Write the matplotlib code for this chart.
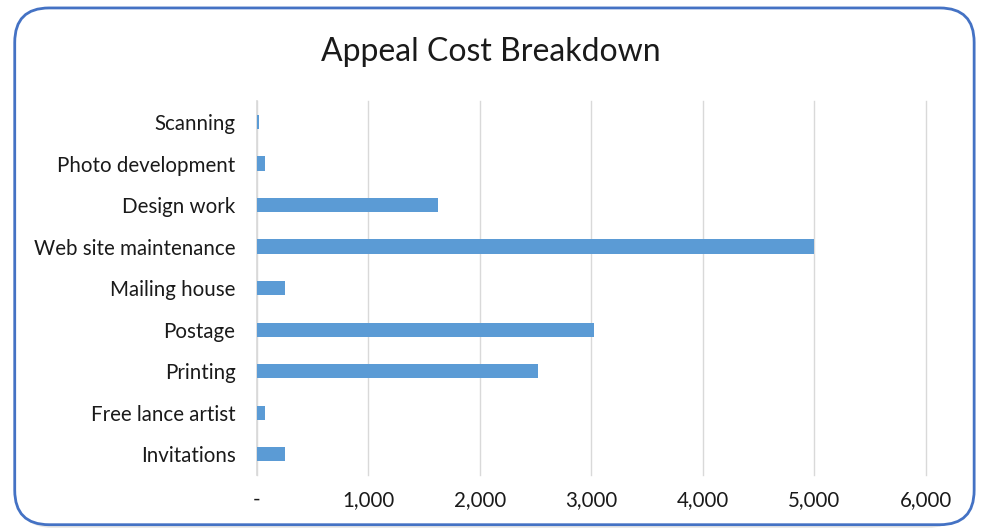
import matplotlib
matplotlib.use('Agg')
from matplotlib import pyplot as plt
from matplotlib.patches import FancyBboxPatch
from matplotlib.ticker import FuncFormatter

categories = ['Invitations', 'Free lance artist', 'Printing', 'Postage', 'Mailing house',
              'Web site maintenance', 'Design work', 'Photo development', 'Scanning']
costs = [250, 75, 2520, 3020, 250, 5000, 1620, 70, 20]
x_ticks = [0, 1000, 2000, 3000, 4000, 5000, 6000]

plt.rcParams['font.family'] = ['Lato', 'DejaVu Sans']

fig = plt.figure(figsize=(9.82, 5.3), dpi=100)

# shadow + rounded border
shadow = FancyBboxPatch((0.018, 0.004), 0.962, 0.976, boxstyle='round,pad=0,rounding_size=0.035',
                        transform=fig.transFigure, facecolor='#e6e6e6', edgecolor='none',
                        mutation_aspect=982/530, zorder=-3)
border = FancyBboxPatch((0.015, 0.01), 0.977, 0.975, boxstyle='round,pad=0,rounding_size=0.035',
                        transform=fig.transFigure, facecolor='white', edgecolor='#4472c4',
                        linewidth=2, mutation_aspect=982/530, zorder=-2)
fig.patches.extend([shadow, border])

ax = fig.add_axes([0.2617, 0.104, 0.681, 0.705])
ax.set_zorder(2)
ax.set_facecolor('none')
ax.barh(categories, costs, height=0.34, color='#5b9bd5', zorder=3)

ax.set_xlim(0, 6000)
ax.set_ylim(-0.5, len(categories) - 0.5)
ax.set_xticks(x_ticks)
ax.xaxis.set_major_formatter(FuncFormatter(lambda v, p: '-' if v == 0 else '{:,.0f}'.format(v)))
ax.grid(axis='x', color='#d9d9d9', linewidth=1, zorder=0)
for gl in ax.xaxis.get_gridlines():
    gl.set_clip_on(False)
for s in ['top', 'right', 'bottom']:
    ax.spines[s].set_visible(False)
ax.spines['left'].set_color('#d9d9d9')
ax.spines['left'].set_linewidth(1.2)
ax.tick_params(axis='both', length=0, labelsize=14.8, labelcolor='#1a1a1a')
ax.tick_params(axis='x', pad=11)
ax.tick_params(axis='y', pad=15.5)

fig.text(0.5, 0.902, 'Appeal Cost Breakdown', ha='center', va='center', fontsize=23,
         color='#1a1a1a', zorder=5)

plt.savefig('out.png')
